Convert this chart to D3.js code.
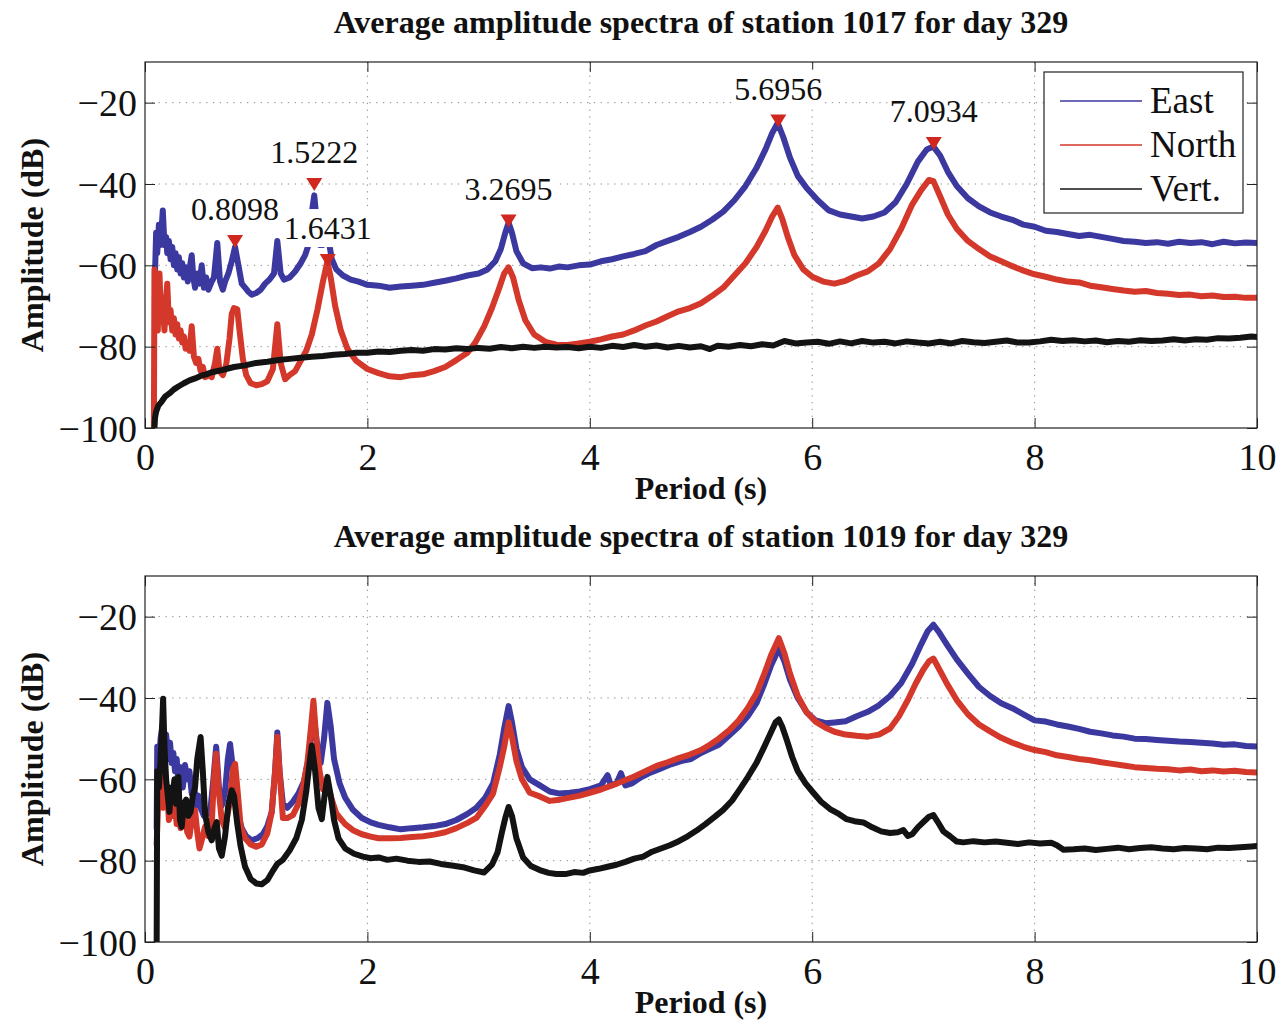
<!DOCTYPE html>
<html><head><meta charset="utf-8">
<script src="https://cdn.jsdelivr.net/npm/d3@7"></script>
<style>
body{margin:0;background:#fff}
text{font-family:"Liberation Serif","Times New Roman",Times,serif;fill:#111}
</style>
</head><body>
<svg id="c" width="1279" height="1024"></svg>
<script>
// ---------- DATA ----------
const xTicks = [0, 2, 4, 6, 8, 10];
const yTicks = [-100, -80, -60, -40, -20];
const titles = ["Average amplitude spectra of station 1017 for day 329",
                "Average amplitude spectra of station 1019 for day 329"];
const seriesNames = ["East", "North", "Vert."];

const peakPeriods = [0.8098, 1.5222, 1.6431, 3.2695, 5.6956, 7.0934];
const peakAmps    = [-54, -40, -58.7, -49, -24.4, -29.9];
const peakLabels  = ["0.8098", "1.5222", "1.6431", "3.2695", "5.6956", "7.0934"];

const top_east = [[0.09,-62],[0.1,-52],[0.11,-57],[0.125,-50],[0.14,-55],[0.16,-46.5],[0.175,-55],[0.19,-53],[0.2,-57],[0.215,-54],[0.23,-58.5],[0.245,-55.5],[0.26,-60],[0.275,-57],[0.29,-61],[0.305,-58],[0.32,-62],[0.335,-59.5],[0.35,-63],[0.37,-60.5],[0.385,-64],[0.4,-61],[0.42,-57.5],[0.435,-63],[0.45,-65.5],[0.47,-62],[0.49,-64.5],[0.51,-60],[0.53,-65.5],[0.55,-63],[0.57,-66],[0.6,-64],[0.62,-63],[0.65,-54.5],[0.675,-64],[0.7,-66],[0.72,-64],[0.75,-62],[0.78,-59],[0.81,-55.5],[0.84,-60],[0.87,-64.5],[0.9,-65.5],[0.93,-66.5],[0.96,-67.2],[1.0,-66.8],[1.04,-66],[1.08,-64.5],[1.12,-63.5],[1.16,-62],[1.19,-54],[1.22,-62],[1.25,-63.5],[1.3,-63],[1.35,-61.5],[1.4,-59.5],[1.44,-57.5],[1.47,-55],[1.5,-47],[1.5222,-42.8],[1.54,-48],[1.57,-55],[1.6,-55],[1.64,-52],[1.68,-58.5],[1.72,-61],[1.78,-62.5],[1.85,-63.5],[1.92,-64],[2.0,-64.8],[2.1,-65],[2.2,-65.5],[2.3,-65.2],[2.4,-65],[2.5,-64.8],[2.6,-64.3],[2.7,-63.8],[2.8,-63.2],[2.9,-62.5],[3.0,-62],[3.08,-61],[3.15,-59],[3.2,-56],[3.24,-52],[3.27,-49.5],[3.3,-52],[3.34,-56.5],[3.4,-59.5],[3.48,-60.7],[3.56,-60.5],[3.64,-60.8],[3.72,-60.3],[3.8,-60.5],[3.9,-60],[4.0,-59.8],[4.1,-59],[4.2,-58.5],[4.3,-57.8],[4.4,-57.2],[4.5,-56.5],[4.6,-55],[4.7,-54],[4.8,-53],[4.9,-51.8],[5.0,-50.5],[5.1,-48.8],[5.2,-46.8],[5.3,-44],[5.4,-40.5],[5.5,-36],[5.58,-31.5],[5.64,-27.5],[5.69,-25],[5.74,-28.5],[5.8,-33.5],[5.87,-38],[5.95,-41],[6.05,-44],[6.15,-46.5],[6.25,-47.5],[6.35,-48],[6.45,-48.5],[6.55,-48],[6.65,-47],[6.75,-44.5],[6.85,-40],[6.95,-34.5],[7.03,-31.5],[7.09,-30.8],[7.15,-33],[7.22,-37],[7.3,-40.5],[7.4,-43.5],[7.5,-45.5],[7.6,-47],[7.7,-48],[7.8,-48.8],[7.9,-50],[8.0,-50.5],[8.1,-51.5],[8.2,-51.8],[8.3,-52.3],[8.4,-52.8],[8.5,-52.5],[8.6,-53],[8.7,-53.5],[8.8,-54],[8.9,-54.2],[9.0,-54.5],[9.1,-54.3],[9.2,-54.7],[9.3,-54.2],[9.4,-54.5],[9.5,-54.3],[9.6,-54.8],[9.7,-54.2],[9.8,-54.6],[9.9,-54.4],[10.0,-54.5]];

const top_north = [[0.08,-100],[0.085,-61],[0.095,-74],[0.105,-70],[0.115,-76],[0.13,-62],[0.145,-73],[0.16,-70],[0.175,-76],[0.19,-68],[0.2,-64.5],[0.215,-74],[0.23,-71],[0.245,-76],[0.26,-73],[0.275,-77],[0.29,-74.5],[0.305,-78],[0.32,-76],[0.335,-79],[0.35,-77.5],[0.365,-80.5],[0.38,-79],[0.4,-81],[0.42,-75],[0.44,-82.5],[0.46,-84],[0.48,-83],[0.5,-86],[0.52,-85],[0.54,-87.5],[0.57,-87],[0.6,-87.5],[0.63,-84],[0.65,-80.5],[0.67,-86],[0.7,-87],[0.73,-84.5],[0.76,-78],[0.78,-72],[0.8,-70.5],[0.83,-70.8],[0.85,-76],[0.88,-83],[0.91,-87],[0.95,-89],[1.0,-89.5],[1.05,-89.2],[1.1,-88.5],[1.15,-85.5],[1.19,-74.5],[1.22,-84],[1.26,-88],[1.3,-87],[1.35,-86],[1.4,-83.5],[1.45,-81],[1.5,-77],[1.55,-71],[1.6,-64],[1.64,-59],[1.67,-63],[1.71,-70],[1.76,-76],[1.82,-80.5],[1.9,-83.5],[2.0,-85.5],[2.1,-86.5],[2.2,-87.3],[2.3,-87.5],[2.4,-87],[2.5,-86.8],[2.6,-86],[2.7,-85],[2.8,-83.3],[2.9,-81.5],[2.97,-79],[3.05,-75],[3.12,-70.5],[3.18,-66],[3.23,-62],[3.27,-60.5],[3.31,-63],[3.36,-68.5],[3.42,-73.5],[3.5,-77],[3.6,-78.8],[3.7,-79.5],[3.8,-79.6],[3.9,-79.2],[4.0,-78.8],[4.1,-78.2],[4.2,-77.5],[4.3,-77],[4.4,-76],[4.5,-74.8],[4.6,-73.8],[4.7,-72.5],[4.8,-71.3],[4.9,-70.5],[5.0,-69.3],[5.1,-67.5],[5.2,-65.5],[5.3,-62.5],[5.4,-59.5],[5.5,-55.5],[5.58,-51.5],[5.64,-48],[5.69,-45.8],[5.73,-48.5],[5.78,-53],[5.84,-57.5],[5.92,-61],[6.0,-62.8],[6.1,-64],[6.2,-64.5],[6.3,-63.8],[6.4,-62.5],[6.5,-61.5],[6.6,-59.5],[6.7,-56],[6.8,-51],[6.9,-45],[6.98,-41.5],[7.05,-39],[7.09,-39.3],[7.15,-43],[7.22,-47.5],[7.3,-51],[7.4,-54],[7.5,-56],[7.6,-57.8],[7.7,-59],[7.8,-60.2],[7.9,-61.3],[8.0,-62.2],[8.1,-62.8],[8.2,-63.5],[8.3,-64],[8.4,-64.2],[8.5,-65],[8.6,-65.4],[8.7,-65.8],[8.8,-66.2],[8.9,-66.5],[9.0,-66.3],[9.1,-66.8],[9.2,-67],[9.3,-67.3],[9.4,-67.2],[9.5,-67.6],[9.6,-67.4],[9.7,-67.8],[9.8,-67.7],[9.9,-68],[10.0,-68]];

const top_vert = [[0.085,-100],[0.09,-97.5],[0.1,-96],[0.12,-94.5],[0.15,-93.5],[0.18,-92.3],[0.22,-91.5],[0.26,-90.5],[0.3,-89.8],[0.35,-89],[0.4,-88.3],[0.45,-87.8],[0.5,-87.2],[0.55,-86.8],[0.6,-86.3],[0.7,-85.7],[0.8,-85],[0.9,-84.6],[1.0,-84],[1.1,-83.7],[1.2,-83.3],[1.3,-83],[1.4,-82.7],[1.5,-82.5],[1.6,-82.3],[1.7,-82],[1.8,-81.8],[1.9,-81.5],[2.0,-81.5],[2.1,-81.2],[2.2,-81.3],[2.3,-81],[2.4,-80.8],[2.5,-81],[2.6,-80.6],[2.7,-80.7],[2.8,-80.4],[2.9,-80.6],[3.0,-80.3],[3.1,-80.5],[3.2,-80.1],[3.3,-80.4],[3.4,-80],[3.5,-80.3],[3.6,-80],[3.7,-80.2],[3.8,-80.1],[3.9,-80.4],[4.0,-80],[4.1,-80.3],[4.2,-79.8],[4.3,-80.1],[4.4,-79.6],[4.5,-80],[4.6,-79.7],[4.7,-80.2],[4.8,-79.8],[4.9,-80.2],[5.0,-79.9],[5.08,-80.6],[5.15,-79.8],[5.25,-80],[5.35,-79.6],[5.45,-79.9],[5.55,-79.4],[5.65,-79.7],[5.75,-78.6],[5.85,-79.2],[5.95,-79],[6.05,-78.8],[6.15,-79.3],[6.25,-78.7],[6.35,-79.2],[6.45,-78.6],[6.55,-79],[6.65,-78.8],[6.75,-79.2],[6.85,-78.7],[6.95,-79],[7.05,-79.2],[7.15,-78.8],[7.25,-79.2],[7.35,-78.6],[7.45,-78.9],[7.55,-79.1],[7.65,-78.8],[7.75,-78.5],[7.85,-79],[7.95,-79],[8.05,-78.7],[8.15,-78.3],[8.25,-78.6],[8.35,-78.4],[8.45,-78.7],[8.55,-78.5],[8.65,-78.9],[8.75,-78.6],[8.85,-78.8],[8.95,-78.4],[9.05,-78.6],[9.15,-78.5],[9.25,-78.2],[9.35,-78.5],[9.45,-78.2],[9.55,-78.3],[9.65,-77.9],[9.75,-78],[9.85,-77.8],[9.95,-77.5],[10.0,-77.6]];

const bot_east = [[0.105,-72],[0.11,-52],[0.125,-58],[0.14,-50],[0.16,-46.5],[0.175,-54],[0.19,-49],[0.21,-55],[0.225,-51],[0.24,-56],[0.255,-53.5],[0.27,-58],[0.285,-55],[0.3,-61],[0.32,-57],[0.34,-62],[0.36,-56.5],[0.38,-60],[0.4,-58],[0.42,-63.5],[0.44,-61],[0.46,-66.5],[0.48,-64],[0.5,-67],[0.53,-69],[0.56,-68.5],[0.59,-67],[0.615,-60],[0.64,-52],[0.665,-62],[0.69,-66.5],[0.72,-63],[0.745,-55],[0.765,-51.3],[0.785,-56],[0.81,-64],[0.84,-69],[0.87,-72],[0.91,-74],[0.96,-75],[1.01,-74.5],[1.06,-73.5],[1.1,-71.5],[1.14,-68],[1.17,-58],[1.19,-48.5],[1.21,-58],[1.24,-66],[1.28,-67],[1.33,-65.5],[1.38,-63.5],[1.43,-60.5],[1.47,-55],[1.5,-47],[1.52,-45],[1.55,-52],[1.58,-56],[1.61,-50],[1.64,-41.2],[1.67,-47],[1.7,-55],[1.75,-61],[1.8,-64.5],[1.87,-67.5],[1.95,-69.5],[2.03,-70.6],[2.1,-71.2],[2.2,-71.8],[2.3,-72.3],[2.4,-72],[2.5,-71.8],[2.6,-71.5],[2.7,-71],[2.8,-70],[2.9,-68.5],[2.98,-67],[3.06,-64.5],[3.13,-61],[3.19,-54],[3.23,-47.5],[3.27,-42],[3.3,-46],[3.34,-52.5],[3.39,-57],[3.46,-60],[3.55,-61.5],[3.64,-63],[3.73,-63.5],[3.82,-63.3],[3.91,-63],[4.0,-62.4],[4.1,-61.5],[4.16,-59],[4.19,-61.5],[4.24,-61],[4.28,-58.5],[4.32,-61.5],[4.38,-61],[4.46,-59.5],[4.55,-58.3],[4.64,-57.3],[4.73,-56.3],[4.82,-55.5],[4.91,-55],[5.0,-53.5],[5.08,-52.5],[5.16,-51.5],[5.25,-49.3],[5.34,-47],[5.42,-44.5],[5.5,-41.2],[5.57,-36.5],[5.63,-32],[5.7,-27.8],[5.75,-31],[5.8,-35.5],[5.87,-40],[5.95,-43.5],[6.03,-45.5],[6.12,-46.2],[6.2,-46],[6.3,-45.7],[6.4,-44.5],[6.5,-43.4],[6.6,-41.8],[6.7,-39.5],[6.8,-36.3],[6.9,-31.5],[6.98,-26.8],[7.04,-23.5],[7.09,-22],[7.14,-23.8],[7.21,-26.8],[7.3,-30.5],[7.4,-34],[7.5,-37.3],[7.6,-39.5],[7.7,-41.3],[7.8,-42.5],[7.9,-44],[8.0,-45.5],[8.1,-45.8],[8.2,-46.5],[8.3,-47],[8.4,-47.6],[8.5,-48.3],[8.6,-48.7],[8.7,-49.2],[8.8,-49.5],[8.9,-50],[9.0,-50.1],[9.1,-50.3],[9.2,-50.5],[9.3,-50.7],[9.4,-50.8],[9.5,-51],[9.6,-51.2],[9.7,-51.5],[9.8,-51.4],[9.9,-51.8],[10.0,-51.9]];

const bot_north = [[0.105,-76],[0.115,-68],[0.13,-62],[0.15,-55.3],[0.165,-67],[0.18,-62],[0.2,-63.5],[0.215,-70],[0.23,-66],[0.25,-69],[0.27,-66.5],[0.285,-71],[0.3,-69],[0.32,-72],[0.34,-70],[0.36,-69.2],[0.38,-73],[0.4,-74.1],[0.42,-70],[0.45,-67.6],[0.47,-73],[0.49,-77],[0.51,-75],[0.54,-71.7],[0.57,-74],[0.6,-71],[0.62,-60],[0.64,-53.7],[0.66,-62],[0.69,-70],[0.72,-72],[0.76,-66],[0.79,-57.5],[0.81,-56.2],[0.83,-62],[0.86,-71.5],[0.9,-74.5],[0.95,-76],[1.0,-76.6],[1.05,-76],[1.1,-73.3],[1.14,-68],[1.17,-58],[1.19,-49.5],[1.21,-58],[1.24,-69.5],[1.28,-69.5],[1.33,-68.8],[1.38,-66],[1.42,-62],[1.46,-56],[1.49,-48],[1.515,-40.7],[1.54,-50],[1.57,-58],[1.6,-62.5],[1.64,-61],[1.68,-65],[1.72,-68.4],[1.8,-71],[1.87,-72.5],[1.95,-73.5],[2.03,-74.1],[2.1,-74.5],[2.2,-74.5],[2.3,-74.4],[2.4,-74.2],[2.5,-74],[2.6,-73.6],[2.7,-73],[2.8,-72],[2.9,-70.7],[2.98,-69.5],[3.06,-66.5],[3.13,-63.5],[3.19,-57],[3.23,-52],[3.27,-46],[3.3,-49.5],[3.34,-55.5],[3.39,-60],[3.46,-63.3],[3.55,-64.2],[3.64,-65.3],[3.73,-65],[3.82,-64.5],[3.91,-64],[4.0,-63.3],[4.1,-62.5],[4.2,-61.5],[4.3,-60.4],[4.4,-59.3],[4.5,-58],[4.6,-56.7],[4.7,-55.8],[4.8,-54.8],[4.9,-53.9],[5.0,-52.8],[5.08,-51.5],[5.16,-50],[5.25,-48],[5.34,-45.5],[5.42,-42.5],[5.5,-38.8],[5.57,-34],[5.63,-29.5],[5.7,-25.3],[5.75,-29],[5.8,-34],[5.87,-39.5],[5.95,-43.5],[6.03,-45.8],[6.12,-47.3],[6.2,-48.3],[6.3,-49],[6.4,-49.3],[6.5,-49.5],[6.6,-49],[6.7,-47.5],[6.78,-44.5],[6.86,-40.5],[6.93,-36.5],[7.0,-33],[7.05,-31],[7.09,-30.3],[7.14,-32.8],[7.21,-36.4],[7.3,-40.5],[7.4,-44],[7.5,-46.5],[7.6,-48.2],[7.7,-49.8],[7.8,-51],[7.9,-52],[8.0,-52.8],[8.1,-53.3],[8.2,-54.1],[8.3,-54.5],[8.4,-55],[8.5,-55.3],[8.6,-55.8],[8.7,-56.2],[8.8,-56.6],[8.9,-57],[9.0,-57.2],[9.1,-57.4],[9.2,-57.5],[9.3,-57.8],[9.4,-57.6],[9.5,-58],[9.6,-57.8],[9.7,-58.1],[9.8,-57.9],[9.9,-58.2],[10.0,-58.3]];

const bot_vert = [[0.105,-100],[0.11,-58],[0.125,-62],[0.14,-55],[0.155,-46],[0.163,-40.2],[0.175,-52],[0.19,-60],[0.205,-64],[0.22,-68],[0.235,-62],[0.25,-63.5],[0.265,-60],[0.28,-66],[0.3,-59.4],[0.315,-70],[0.33,-71.7],[0.35,-66],[0.37,-65],[0.39,-69],[0.41,-68],[0.43,-64],[0.45,-62],[0.47,-55],[0.5,-49.6],[0.52,-58],[0.54,-68.4],[0.57,-73],[0.6,-75],[0.625,-72],[0.645,-70.5],[0.665,-77],[0.69,-78.8],[0.72,-74],[0.75,-66],[0.78,-62.7],[0.8,-64],[0.83,-71],[0.86,-76.5],[0.9,-81.5],[0.95,-84.5],[1.0,-85.6],[1.05,-85.8],[1.1,-84.8],[1.15,-82.5],[1.19,-80.8],[1.24,-79.8],[1.3,-77.5],[1.36,-74.5],[1.41,-70],[1.45,-63],[1.48,-56],[1.5,-51.7],[1.53,-58],[1.56,-67],[1.59,-69.8],[1.615,-64],[1.64,-59.4],[1.67,-64],[1.7,-70],[1.74,-74.5],[1.8,-77],[1.88,-78.3],[1.96,-79],[2.03,-79.4],[2.1,-79.2],[2.18,-79.8],[2.26,-79.5],[2.36,-80],[2.46,-80.3],[2.56,-80.2],[2.66,-80.8],[2.76,-81.2],[2.86,-81.6],[2.96,-82.4],[3.05,-82.9],[3.12,-81],[3.17,-78],[3.21,-73],[3.24,-69.5],[3.27,-66.8],[3.3,-69],[3.34,-74.5],[3.4,-79.2],[3.47,-81.3],[3.55,-82.3],[3.63,-83],[3.7,-83.3],[3.78,-83.3],[3.86,-82.8],[3.94,-83],[4.0,-82.4],[4.08,-82],[4.16,-81.5],[4.24,-81],[4.32,-80.3],[4.4,-79.5],[4.48,-79],[4.56,-77.8],[4.64,-77],[4.72,-76.2],[4.8,-75.2],[4.88,-74],[4.96,-72.6],[5.04,-71],[5.12,-69.3],[5.2,-67.5],[5.28,-65.2],[5.35,-62.4],[5.42,-59.5],[5.5,-55.9],[5.56,-52.5],[5.62,-49],[5.67,-46],[5.7,-45.3],[5.73,-47],[5.77,-50.2],[5.82,-54.5],[5.87,-58],[5.94,-61],[6.01,-63.3],[6.08,-65.5],[6.16,-67.3],[6.24,-68.5],[6.31,-69.8],[6.38,-70.3],[6.46,-70.6],[6.54,-71.8],[6.62,-72.8],[6.7,-73.2],[6.77,-73],[6.82,-72.5],[6.86,-73.9],[6.9,-73.5],[6.95,-71.8],[7.0,-70.5],[7.05,-69.2],[7.09,-68.8],[7.13,-70.5],[7.18,-72.8],[7.24,-74],[7.3,-75.3],[7.36,-75.5],[7.45,-75.2],[7.55,-75.5],[7.65,-75.3],[7.75,-75.6],[7.85,-75.9],[7.95,-75.5],[8.05,-75.8],[8.15,-75.6],[8.2,-76.2],[8.26,-77.3],[8.35,-77.2],[8.45,-77],[8.55,-77.4],[8.65,-77.1],[8.75,-76.8],[8.85,-77.2],[8.95,-76.9],[9.05,-76.7],[9.15,-77],[9.25,-77.2],[9.35,-76.9],[9.45,-77],[9.55,-77.2],[9.65,-76.8],[9.75,-76.9],[9.85,-76.7],[9.95,-76.5],[10.0,-76.4]];

// ---------- DRAWING ----------
const colors = ["#3b389f", "#d3382a", "#131313"];
const svg = d3.select("#c");
const X0 = 145, X1 = 1257;
const panels = [
  {top: 62, bottom: 428, series: [top_east, top_north, top_vert], title: titles[0], peaks: true, legend: true},
  {top: 576, bottom: 942, series: [bot_east, bot_north, bot_vert], title: titles[1], peaks: false, legend: false}
];

panels.forEach((p, pi) => {
  const x = d3.scaleLinear().domain([0, 10]).range([X0, X1]);
  const y = d3.scaleLinear().domain([-100, -10]).range([p.bottom, p.top]);
  const g = svg.append("g");
  const clipId = "clip" + pi;
  svg.append("clipPath").attr("id", clipId).append("rect")
    .attr("x", X0).attr("y", p.top).attr("width", X1 - X0).attr("height", p.bottom - p.top);

  // grid
  const grid = g.append("g").attr("stroke", "#8a8a8a").attr("stroke-width", 1).attr("stroke-dasharray", "1.3,5.5");
  xTicks.filter(t => t > 0 && t < 10).forEach(t => grid.append("line").attr("x1", x(t)).attr("x2", x(t)).attr("y1", p.top).attr("y2", p.bottom));
  yTicks.filter(t => t > -100).forEach(t => grid.append("line").attr("x1", X0).attr("x2", X1).attr("y1", y(t)).attr("y2", y(t)));

  // curves
  const line = d3.line().x(d => x(d[0])).y(d => y(d[1]));
  const cg = g.append("g").attr("clip-path", `url(#${clipId})`);
  p.series.forEach((s, i) => {
    cg.append("path").datum(s).attr("d", line).attr("fill", "none")
      .attr("stroke", colors[i]).attr("stroke-width", 6).attr("stroke-linejoin", "round").attr("stroke-linecap", "round");
  });

  // axes with inside ticks on all sides
  const tickLen = 10;
  g.append("g").attr("transform", `translate(0,${p.bottom})`)
    .call(d3.axisBottom(x).tickValues(xTicks).tickSize(-tickLen).tickPadding(6).tickFormat(d3.format("d")))
    .call(a => a.select(".domain").remove())
    .call(a => a.selectAll("text").attr("font-size", 38).attr("dy", null).attr("y", 42).style("font-family", "Liberation Serif"));
  g.append("g").attr("transform", `translate(0,${p.top})`)
    .call(d3.axisTop(x).tickValues(xTicks).tickSize(-tickLen).tickFormat(""))
    .call(a => a.select(".domain").remove());
  g.append("g").attr("transform", `translate(${X0},0)`)
    .call(d3.axisLeft(y).tickValues(yTicks).tickSize(-tickLen).tickPadding(8).tickFormat(d3.format("d")))
    .call(a => a.select(".domain").remove())
    .call(a => a.selectAll("text").attr("font-size", 38).attr("dy", null).attr("x", -8).attr("y", 13).style("font-family", "Liberation Serif"));
  g.append("g").attr("transform", `translate(${X1},0)`)
    .call(d3.axisRight(y).tickValues(yTicks).tickSize(-tickLen).tickFormat(""))
    .call(a => a.select(".domain").remove());
  g.selectAll(".tick line").attr("stroke", "#222");
  g.selectAll(".tick text").attr("fill", "#111");
  g.append("rect").attr("x", X0).attr("y", p.top).attr("width", X1 - X0).attr("height", p.bottom - p.top)
    .attr("fill", "none").attr("stroke", "#222").attr("stroke-width", 1.2);

  // titles / labels
  g.append("text").attr("x", (X0 + X1) / 2).attr("y", p.top - 29).attr("text-anchor", "middle")
    .attr("font-size", 32).attr("font-weight", "bold").text(p.title);
  g.append("text").attr("x", (X0 + X1) / 2).attr("y", p.bottom + 71).attr("text-anchor", "middle")
    .attr("font-size", 32).attr("font-weight", "bold").text("Period (s)");
  g.append("text").attr("transform", `translate(43,${(p.top + p.bottom) / 2}) rotate(-90)`).attr("text-anchor", "middle")
    .attr("font-size", 32).attr("font-weight", "bold").text("Amplitude (dB)");

  // peak markers
  if (p.peaks) {
    const mg = g.append("g");
    peakPeriods.forEach((pp, k) => {
      mg.append("path").attr("transform", `translate(${x(pp)},${y(peakAmps[k])})`)
        .attr("d", "M-8,-6L8,-6L0,7Z").attr("fill", "#d0281e");
    });
    peakPeriods.forEach((pp, k) => {
      const t = mg.append("text").attr("x", x(pp)).attr("y", y(peakAmps[k]) - 21).attr("text-anchor", "middle")
        .attr("font-size", 32).text(peakLabels[k]);
      const b = t.node().getBBox();
      mg.insert("rect", () => t.node()).attr("x", b.x - 2).attr("y", b.y - 1).attr("width", b.width + 4).attr("height", b.height + 2).attr("fill", "#fff");
    });
  }

  // legend
  if (p.legend) {
    const lg = g.append("g");
    lg.append("rect").attr("x", 1044).attr("y", 72).attr("width", 199).attr("height", 141)
      .attr("fill", "#fff").attr("stroke", "#222").attr("stroke-width", 1.2);
    seriesNames.forEach((n, i) => {
      const yy = 101 + i * 44;
      lg.append("line").attr("x1", 1060).attr("x2", 1142).attr("y1", yy).attr("y2", yy).attr("stroke", colors[i]).attr("stroke-width", 1.5);
      lg.append("text").attr("x", 1150).attr("y", yy + 12).attr("font-size", 37).text(n);
    });
  }
});
</script>
</body></html>
